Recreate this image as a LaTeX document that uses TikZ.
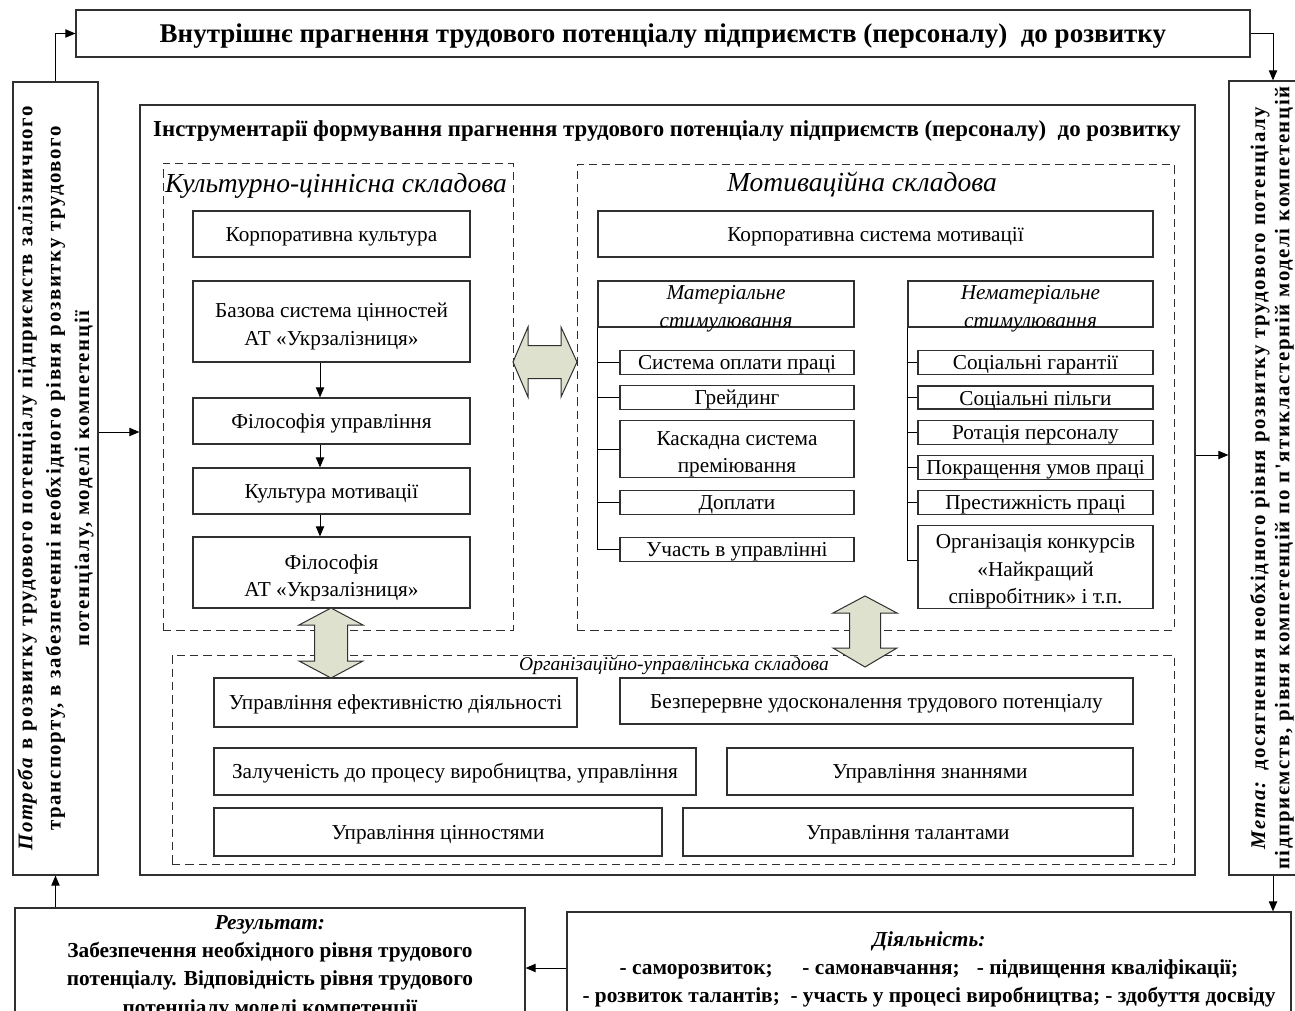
\documentclass[tikz,border=0pt]{standalone}
\usepackage{fontspec}
\setmainfont{Liberation Serif}
\newfontfamily\spacedfont[LetterSpace=8]{Liberation Serif}
\usetikzlibrary{fit,arrows.meta}

\definecolor{blockfill}{HTML}{DDE1CD}
\definecolor{framegray}{HTML}{303030}
\newcommand{\lifttext}[1]{\rule{0pt}{#1}}

\tikzset{
  box/.style={draw=framegray,line width=0.75pt,inner sep=0pt,align=center,font=\fontsize{12.75}{16.5}\selectfont,
    execute at begin node={\rule{0pt}{0.9em}}},
  ittext/.style={align=center,inner sep=0pt,font=\fontsize{12.75}{16.5}\selectfont\itshape},
  sz/.style 2 args={minimum width=#1*0.6pt,minimum height=#2*0.6pt},
  frame/.style={draw=framegray,line width=0.75pt,inner sep=0pt},
  dashbox/.style={draw=framegray,line width=0.6pt,dash pattern=on 5pt off 3pt,inner sep=0pt},
  headtext/.style={font=\fontsize{16.5}{20}\selectfont\itshape,inner sep=0pt},
  sidetext/.style={rotate=90,align=center,inner sep=0pt,font=\spacedfont\fontsize{12.5}{17}\selectfont\bfseries},
  bottomtext/.style={align=center,inner sep=0pt,font=\fontsize{12.8}{17}\selectfont\bfseries},
  arr/.style={draw=black,line width=0.6pt,-{Triangle[length=6pt,width=5pt]}},
  branch/.style={draw=black,line width=0.6pt},
  blockarrow/.style={fill=blockfill,draw=framegray,line width=0.6pt}
}

\begin{document}
\begin{tikzpicture}[x=0.6pt,y=-0.6pt]
\clip (0,0) rectangle (1295,1011);
\fill[white] (0,0) rectangle (1295,1011);

% outer frame
\node[box,sz={1174}{47},font=\fontsize{16.2}{19}\selectfont\bfseries] (drive) at (663,33.5) {Внутрішнє прагнення трудового потенціалу підприємств (персоналу)\ \ до розвитку};
\node[frame,fit={(13,82) (98,875)}] (need) {};
\node[sidetext] (needtext) at (need.center) {\textit{Потреба} в розвитку трудового потенціалу підприємств залізничного\\транспорту, в забезпеченні необхідного рівня розвитку трудового\\потенціалу, моделі компетенції};
\node[frame,fit={(1229,81) (1317,875)}] (goal) {};
\node[sidetext,font=\spacedfont\fontsize{12.5}{14.5}\selectfont\bfseries] (goaltext) at (1272,478) {\textit{Мета:} досягнення необхідного рівня розвитку трудового потенціалу\\підприємств, рівня компетенцій по п'ятикластерній моделі компетенцій};
\node[frame,fit={(15,908) (525,1040)}] (result) {};
\node[bottomtext,anchor=north] (resulttext) at (270,915) {\textit{Результат:}\\Забезпечення необхідного рівня трудового\\потенціалу. Відповідність рівня трудового\\потенціалу моделі компетенції};
\node[frame,fit={(567,912) (1291,1040)}] (activity) {};
\node[bottomtext,anchor=north] (activitytext) at (929,931) {\textit{Діяльність:}\\- саморозвиток;\hspace{1.4em}- самонавчання;\hspace{0.8em}- підвищення кваліфікації;\\- розвиток талантів;\hspace{0.5em}- участь у процесі виробництва; - здобуття досвіду};

% instruments
\node[frame,fit={(140,105) (1195,875)}] (instr) {};
\node[inner sep=0pt,font=\fontsize{13.7}{16}\selectfont\bfseries] (instrtitle) at (667,131) {Інструментарії формування прагнення трудового потенціалу підприємств (персоналу)\ \ до розвитку};

% culture
\node[dashbox,fit={(163,163) (513,630)}] (cult) {};
\node[headtext] (culttitle) at (336,186) {Культурно-ціннісна складова};
\node[box,sz={277}{46}] (corpcult) at (331.5,234) {Корпоративна культура};
\node[box,sz={277}{81}] (basevalues) at (331.5,321.5) {\lifttext{1.15em}Базова система цінностей\\АТ «Укрзалізниця»};
\node[box,sz={277}{46}] (mgmtphil) at (331.5,421) {Філософія управління};
\node[box,sz={277}{46}] (motivcult) at (331.5,491) {Культура мотивації};
\node[box,sz={277}{71}] (uzphil) at (331.5,572.5) {\lifttext{1.2em}Філософія\\АТ «Укрзалізниця»};
\coordinate (chain) at (320,0);
\draw[arr] (basevalues.south -| chain) -- (mgmtphil.north -| chain);
\draw[arr] (mgmtphil.south -| chain) -- (motivcult.north -| chain);
\draw[arr] (motivcult.south -| chain) -- (uzphil.north -| chain);

% motivation
\node[dashbox,fit={(577,164) (1174,630)}] (motiv) {};
\node[headtext] (motivtitle) at (862,184) {Мотиваційна складова};
\node[box,sz={555}{46}] (corpmotiv) at (875.5,234) {Корпоративна система мотивації};
\node[frame,fit={(598,281) (854,327)}] (material) {};
\node[ittext] (materialtext) at ([yshift=-3pt]material.center) {Матеріальне\\стимулювання};
\node[frame,fit={(908,281) (1153,327)}] (nonmaterial) {};
\node[ittext] (nonmaterialtext) at ([yshift=-3pt]nonmaterial.center) {Нематеріальне\\стимулювання};
\node[box,sz={234}{23}] (pay) at (737,362.5) {Система оплати праці};
\node[box,sz={234}{23}] (grading) at (737,397.5) {Грейдинг};
\node[box,sz={234}{56}] (cascade) at (737,449) {\lifttext{1.15em}Каскадна система\\преміювання};
\node[box,sz={234}{23}] (bonus) at (737,502.5) {Доплати};
\node[box,sz={234}{23}] (share) at (737,549.5) {Участь в управлінні};
\node[box,sz={235}{23}] (guarantee) at (1035.5,362.5) {Соціальні гарантії};
\node[box,sz={235}{23}] (benefit) at (1035.5,397.5) {Соціальні пільги};
\node[box,sz={235}{23}] (rotation) at (1035.5,432.5) {Ротація персоналу};
\node[box,sz={235}{23}] (conditions) at (1035.5,467.5) {Покращення умов праці};
\node[box,sz={235}{23}] (prestige) at (1035.5,502.5) {Престижність праці};
\node[box,sz={235}{82}] (contest) at (1035.5,567) {\lifttext{1.1em}Організація конкурсів\\«Найкращий\\співробітник» і т.п.};
\draw[branch] (material.south west) |- (share.west);
\foreach \item in {pay,grading,cascade,bonus}
  \draw[branch] (material.south west |- \item.west) -- (\item.west);
\draw[branch] (nonmaterial.south west) |- ([yshift=4pt]contest.west);
\foreach \item in {guarantee,benefit,rotation,conditions,prestige}
  \draw[branch] (nonmaterial.south west |- \item.west) -- (\item.west);

% organisation
\node[dashbox,fit={(172,655) (1174,864)}] (org) {};
\node[inner sep=0pt,font=\fontsize{11.7}{14}\selectfont\itshape] (orgtitle) at (674,666) {Організаційно-управлінська складова};
\node[box,sz={363}{49}] (efficiency) at (395.5,702.5) {Управління ефективністю діяльності};
\node[box,sz={513}{46}] (improve) at (876.5,701) {Безперервне удосконалення трудового потенціалу};
\node[box,sz={482}{47}] (involve) at (455,771.5) {Залученість до процесу виробництва, управління};
\node[box,sz={406}{47}] (knowledge) at (930,771.5) {Управління знаннями};
\node[box,sz={448}{48}] (valuemgmt) at (438,832) {Управління цінностями};
\node[box,sz={450}{48}] (talent) at (908,832) {Управління талантами};

% block arrows
\path[blockarrow] (513,362) -- (528,327) -- (528,345.5) -- (561,345.5) -- (561,327) -- (577,362) -- (561,397) -- (561,378.5) -- (528,378.5) -- (528,397) -- cycle;
\path[blockarrow] (331,608) -- (363,625) -- (347.5,625) -- (347.5,661) -- (363,661) -- (331,678) -- (299,661) -- (314.5,661) -- (314.5,625) -- (299,625) -- cycle;
\path[blockarrow] (865,596) -- (897,613) -- (880.5,613) -- (880.5,648) -- (897,648) -- (865,667) -- (833,648) -- (849.5,648) -- (849.5,613) -- (833,613) -- cycle;

% connectors
\coordinate (inlevel) at (0,432);
\coordinate (outlevel) at (0,455);
\coordinate (backlevel) at (0,968);
\draw[arr] (need.north) |- (drive.west);
\draw[arr] (drive.east) -| (goal.north);
\draw[arr] (need.east |- inlevel) -- (instr.west |- inlevel);
\draw[arr] (instr.east |- outlevel) -- (goal.west |- outlevel);
\draw[arr] (goal.south) -- (activity.north -| goal.south);
\draw[arr] (activity.west |- backlevel) -- (result.east |- backlevel);
\draw[arr] (result.north -| need.south) -- (need.south);
\end{tikzpicture}
\end{document}
